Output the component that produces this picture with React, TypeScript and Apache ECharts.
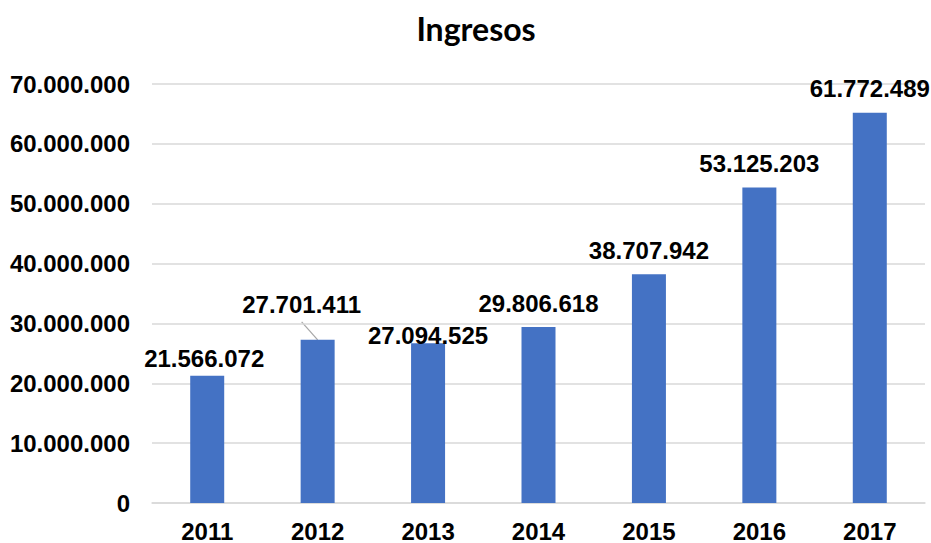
import React, { useEffect, useRef } from "react";
import * as echarts from "echarts";

const years = ["2011", "2012", "2013", "2014", "2015", "2016", "2017"];
// bar heights as drawn in the picture
const barValues = [21250000, 27260000, 26700000, 29400000, 38200000, 52700000, 65200000];
// values written in the data labels
const reportedValues = [21566072, 27701411, 27094525, 29806618, 38707942, 53125203, 61772489];
const yTicks = { min: 0, max: 70000000, interval: 10000000 };
const titleText = "Ingresos";

const labelOffsets: [number, number][] = [
  [-3, 7],
  [-16, -11],
  [0, 16],
  [0, 0],
  [0, 0],
  [0, 0],
  [0, 0],
];

const fmt = (v: number) => String(Math.round(v)).replace(/\B(?=(\d{3})+(?!\d))/g, ".");

export default function App() {
  const ref = useRef<HTMLDivElement>(null);
  useEffect(() => {
    if (!ref.current) return;
    const chart = echarts.init(ref.current, undefined, { renderer: "svg" });
    const font = "Arial";
    const fs = 24;
    chart.setOption({
      animation: false,
      backgroundColor: "#ffffff",
      graphic: [
        {
          id: "title",
          type: "text",
          x: 476,
          y: 12,
          style: {
            text: titleText,
            textAlign: "center",
            textVerticalAlign: "top",
            font: "bold 32px Lato, sans-serif",
            fill: "#000000",
          },
        },
      ],
      grid: { left: 152, right: 6, top: 84, bottom: 40, containLabel: false },
      xAxis: {
        type: "category",
        data: years,
        axisLine: { show: true, lineStyle: { color: "#d9d9d9", width: 1.5 } },
        axisTick: { show: false },
        axisLabel: {
          color: "#000000",
          fontFamily: font,
          fontWeight: "bold",
          fontSize: fs,
          margin: 16,
        },
      },
      yAxis: {
        type: "value",
        min: yTicks.min,
        max: yTicks.max,
        interval: yTicks.interval,
        axisLine: { show: false },
        axisTick: { show: false },
        splitLine: { lineStyle: { color: "#d9d9d9", width: 1.5 } },
        axisLabel: {
          color: "#000000",
          fontFamily: font,
          fontWeight: "bold",
          fontSize: fs,
          margin: 22,
          formatter: (v: number) => fmt(v),
        },
      },
      series: [
        {
          type: "bar",
          barWidth: 34,
          itemStyle: { color: "#4472c4" },
          data: barValues,
          label: {
            show: true,
            position: "top",
            distance: 12,
            color: "#000000",
            fontFamily: font,
            fontWeight: "bold",
            fontSize: fs,
            formatter: (p: any) => fmt(reportedValues[p.dataIndex]),
          },
          labelLayout: (p: any) => ({
            dx: labelOffsets[p.dataIndex][0],
            dy: labelOffsets[p.dataIndex][1],
          }),
        },
      ],
    });
    // leader line for the moved 2012 label, anchored with the chart's own scales
    const top = chart.convertToPixel({ xAxisIndex: 0, yAxisIndex: 0 }, [1, barValues[1]]) as number[];
    chart.setOption({
      graphic: [
        {
          id: "leader",
          type: "line",
          shape: { x1: top[0] + labelOffsets[1][0], y1: top[1] - 18, x2: top[0], y2: top[1] },
          style: { stroke: "#a6a6a6", lineWidth: 1.2 },
        },
      ],
    });
    return () => chart.dispose();
  }, []);
  return <div ref={ref} style={{ width: 931, height: 543, position: "absolute", left: 0, top: 0 }} />;
}
